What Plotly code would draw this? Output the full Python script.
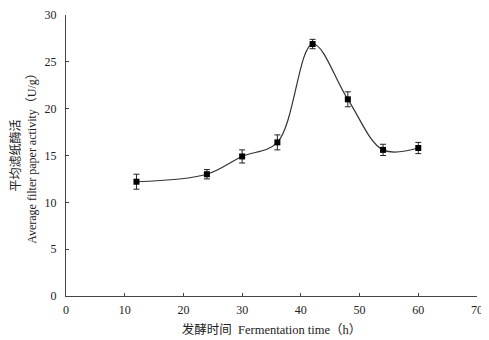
import plotly.graph_objects as go

time_h = [12, 24, 30, 36, 42, 48, 54, 60]
activity = [12.2, 13.0, 14.9, 16.4, 26.9, 21.0, 15.6, 15.8]
err = [0.8, 0.5, 0.7, 0.8, 0.5, 0.8, 0.6, 0.6]
x_ticks = [0, 10, 20, 30, 40, 50, 60, 70]
y_ticks = [0, 5, 10, 15, 20, 25, 30]

font_family = "Liberation Serif, Noto Sans CJK SC"

fig = go.Figure()
fig.add_trace(go.Scatter(
    x=time_h, y=activity, mode="lines+markers",
    line=dict(color="#333333", width=1.2, shape="spline", smoothing=1.0),
    marker=dict(symbol="square", size=6, color="black"),
    error_y=dict(type="data", array=err, visible=True, color="#222222", thickness=1, width=3),
    showlegend=False,
    cliponaxis=False,
))

fig.update_layout(
    width=481, height=332,
    margin=dict(l=58, r=12, t=7, b=44),
    paper_bgcolor="white", plot_bgcolor="white",
    font=dict(family=font_family, size=12, color="#222222"),
    xaxis=dict(
        range=[0, 70], tickvals=x_ticks, ticks="inside", ticklen=3, automargin=False,
        ticklabelstandoff=3, ticklabeloverflow="allow",
        showline=True, linecolor="#444444", linewidth=1, showgrid=False, zeroline=False,
        title=dict(text="发酵时间  Fermentation time（h）", font=dict(size=12.5), standoff=8),
        tickfont=dict(size=12),
    ),
    yaxis=dict(
        range=[0, 30], tickvals=y_ticks, ticks="inside", ticklen=3, automargin=False,
        ticklabelstandoff=6, ticklabeloverflow="allow",
        showline=True, linecolor="#444444", linewidth=1, showgrid=False, zeroline=False,
        title=dict(text="平均滤纸酶活<br>Average filter paper activity（U/g）", font=dict(size=12), standoff=6),
        tickfont=dict(size=12),
    ),
)

fig.write_html("out.html")
